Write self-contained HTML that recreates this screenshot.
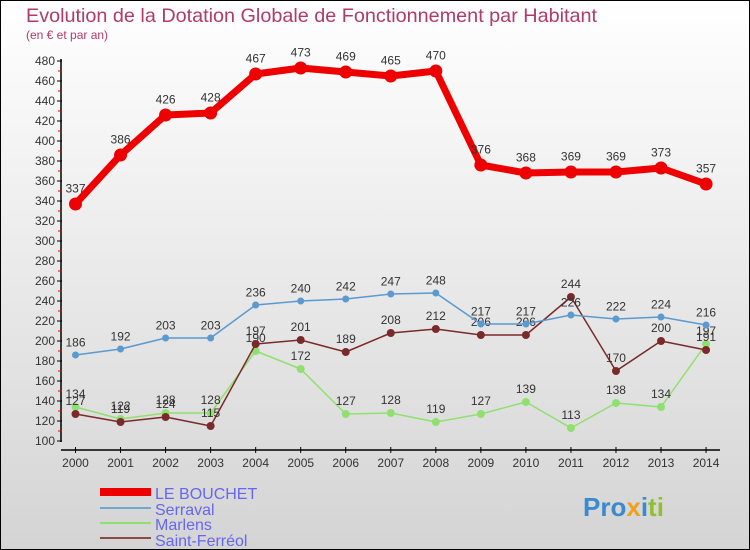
<!DOCTYPE html>
<html><head><meta charset="utf-8"><style>
body{margin:0}
#c{width:750px;height:550px;position:relative;background:linear-gradient(#ffffff,#d4d4d4);box-sizing:border-box;border:1px solid #000;overflow:hidden;font-family:"Liberation Sans",sans-serif}
</style></head><body>
<div id="c">
<svg id="s" width="750" height="550" style="position:absolute;left:-1px;top:-1px">
<text x="26" y="22" font-size="19.8" fill="#b03a6a" textLength="571">Evolution de la Dotation Globale de Fonctionnement par Habitant</text>
<text x="26" y="39" font-size="12" fill="#b03a6a">(en € et par an)</text>
<g id="axes"></g><g id="series"></g>
<g>
<rect x="100" y="488" width="51" height="8" fill="#e00"/>
<text x="155" y="499" font-size="16" fill="#6666ee">LE BOUCHET</text>
<rect x="100" y="507" width="51" height="2" fill="#6fa8d0"/>
<text x="155" y="515" font-size="16" fill="#6666ee">Serraval</text>
<rect x="100" y="522" width="51" height="2" fill="#90e070"/>
<text x="155" y="530" font-size="16" fill="#6666ee">Marlens</text>
<rect x="100" y="537" width="51" height="2" fill="#8b4a4a"/>
<text x="155" y="546" font-size="16" fill="#6666ee">Saint-Ferréol</text>
</g>
<text x="583" y="516" font-size="26" font-weight="bold"><tspan fill="#3a8ad0">Pro</tspan><tspan fill="#f0a020">x</tspan><tspan fill="#3a8ad0">i</tspan><tspan fill="#90c030">ti</tspan></text>
</svg></div>
<script>
const years=[2000,2001,2002,2003,2004,2005,2006,2007,2008,2009,2010,2011,2012,2013,2014];
const leBouchet=[337,386,426,428,467,473,469,465,470,376,368,369,369,373,357];
const serraval=[186,192,203,203,236,240,242,247,248,217,217,226,222,224,216];
const marlens=[134,122,128,128,190,172,127,128,119,127,139,113,138,134,197];
const saintFerreol=[127,119,124,115,197,201,189,208,212,206,206,244,170,200,191];
const yTicks=[100,120,140,160,180,200,220,240,260,280,300,320,340,360,380,400,420,440,460,480];
const NS="http://www.w3.org/2000/svg";
const X=i=>75.5+i*45.04, Y=v=>441-(v-100);
function mk(t,a,p){const e=document.createElementNS(NS,t);for(const k in a)e.setAttribute(k,a[k]);p.appendChild(e);return e;}
const ax=document.getElementById('axes');
mk('line',{x1:61,y1:59,x2:61,y2:442,stroke:'#000','stroke-width':1.5},ax);
mk('line',{x1:61,y1:450,x2:720,y2:450,stroke:'#000','stroke-width':1.5},ax);
yTicks.forEach((v,k)=>{
 mk('line',{x1:57,y1:Y(v),x2:62,y2:Y(v),stroke:'#000'},ax);
 if(k<yTicks.length-1) mk('line',{x1:58,y1:Y(v+10),x2:62,y2:Y(v+10),stroke:'#e00'},ax);
 const t=mk('text',{x:55,y:Y(v)+4,'font-size':12,fill:'#333','text-anchor':'end'},ax);
 
 
 t.textContent=v;
});
years.forEach((y,i)=>{
 mk('line',{x1:X(i),y1:447,x2:X(i),y2:453,stroke:'#000'},ax);
 const t=mk('text',{x:X(i),y:467,'font-size':12,fill:'#333','text-anchor':'middle'},ax);
 
 
 t.textContent=y;
});
const sg=document.getElementById('series');
function draw(vals,color,w,r,name){
 const g=mk('g',{},sg);
 
 
 mk('polyline',{points:vals.map((v,i)=>X(i)+','+Y(v)).join(' '),fill:'none',stroke:color,'stroke-width':w,'stroke-linejoin':'round'},g);
 vals.forEach((v,i)=>{
  const c=mk('circle',{cx:X(i),cy:Y(v),r:r,fill:color},g);
  
  
  const t=mk('text',{x:X(i),y:Y(v)-(r+5),'font-size':12,fill:'#333','text-anchor':'middle'},g);
  
  
  t.textContent=v;
 });
}
draw(marlens,'#90e070',1.5,4,'marlens');
draw(saintFerreol,'#7a2a2a',1.5,4,'saint-ferreol');
draw(serraval,'#5a9ad0',1.5,3.5,'serraval');
draw(leBouchet,'#e00',7,6.5,'le-bouchet');
</script>
</body></html>
